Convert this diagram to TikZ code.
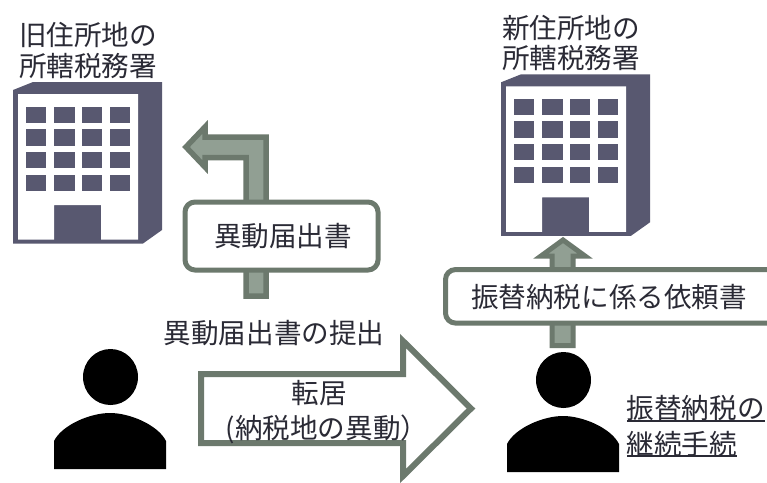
\documentclass[tikz,border=0pt]{standalone}
\usepackage{fontspec}
\setmainfont{Noto Sans CJK JP}
\definecolor{bld}{HTML}{585870}
\definecolor{arrowline}{HTML}{6C796D}
\definecolor{arrowfill}{HTML}{919F93}
\definecolor{txt}{HTML}{2A2A35}
\tikzset{
  blockarrow/.style={draw=arrowline,fill=arrowfill,line width=5.5pt,miter limit=10},
  bigarrow/.style={draw=arrowline,fill=white,line width=6pt,miter limit=10},
  labelbox/.style={draw=arrowline,fill=white,line width=5pt,rounded corners=10pt},
  lbl/.style={text=txt,font=\fontsize{27.6}{33}\selectfont,inner sep=0pt,align=left},
  lblc/.style={lbl,align=center},
  ulline/.style={draw=txt,line width=1.3pt},
  building/.pic={
    \fill[bld] (13,90) -- (33,82) -- (162,82) -- (162,230) -- (143,243.5) -- (13,243.5) -- cycle;
    \fill[white] (18,94) -- (138,94) -- (138,239.5) -- (101,239.5) -- (101,205) -- (54,205) -- (54,239.5) -- (18,239.5) -- cycle;
    \foreach \wx/\ww in {26/20,54/21,82/20,110/20}
      \foreach \wy/\wh in {107/16,129/17,152/16,175/16}
        \fill[bld] (\wx,\wy) rectangle ++(\ww,\wh);
  },
  person/.pic={
    \fill[black] (110.5,377) ellipse[x radius=27.5,y radius=28];
    \fill[black] (54,469) -- (54,441) .. controls (62,425) and (90,413) .. (110,413) .. controls (130,413) and (158,425) .. (166,441) -- (166,469) -- cycle;
  }
}
\begin{document}
\begin{tikzpicture}[x=1pt,y=-1pt]
\useasboundingbox (0,0) rectangle (767,482);
\fill[white] (0,0) rectangle (767,482);

\pic at (0,0) {building};
\pic at (488,-7.7) {building};

% bent arrow, old office
\draw[blockarrow] (186,147) -- (205,127) -- (205,137) -- (266,137) -- (266,296) -- (246,296) -- (246,157.5) -- (205,157.5) -- (205,167) -- cycle;
\node[labelbox,minimum width=193pt,minimum height=68pt,inner sep=0pt] (boxa) at (281.5,236) {};
\node[lbl] (boxatext) at (283,236) {異動届出書};

% up arrow, new office
\draw[blockarrow,line width=5pt] (552,345.5) -- (552,256) -- (541,256) -- (563,240) -- (585,256) -- (573,256) -- (573,345.5) -- cycle;
\begin{scope}
\clip (0,0) rectangle (767,482);
\node[labelbox,minimum width=340pt,minimum height=53.5pt,inner sep=0pt] (boxb) at (615.5,296.3) {};
\end{scope}
\node[lbl] (boxbtext) at (609,297) {振替納税に係る依頼書};

% big arrow
\draw[bigarrow] (201,374) -- (403,374) -- (403,341) -- (471,408.5) -- (403,476) -- (403,443) -- (201,443) -- cycle;

\pic at (0,0) {person};
\pic at (453,3) {person};

\node[lblc] (oldoffice) at (88,50.5) {旧住所地の\\[-2pt]所轄税務署};
\node[lblc] (newoffice) at (571,43) {新住所地の\\[-3pt]所轄税務署};
\node[lbl] (submit) at (274,333) {異動届出書の提出};
\node[lblc] (move) at (319,412) {転居\\[2pt]\hspace*{16pt}(納税地の異動）};
\node[lbl,anchor=west] (cont1) at (626.5,408) {振替納税の};
\node[lbl,anchor=west] (cont2) at (626.5,444) {継続手続};
\draw[ulline] (627,421) -- (765,421);
\draw[ulline] (627,456) -- (737,456);
\end{tikzpicture}
\end{document}
